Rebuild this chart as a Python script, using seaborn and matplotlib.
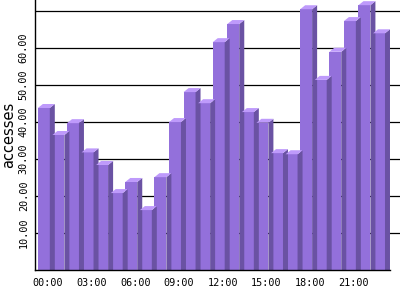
import numpy as np
import pandas as pd
import seaborn as sns
import matplotlib
matplotlib.use("Agg")
import matplotlib.pyplot as plt
from matplotlib.patches import Polygon

hours = [f"{h:02d}:00" for h in range(24)]
accesses = [43.8, 36.5, 39.7, 31.8, 28.4, 20.8, 23.8, 16.2, 25.1, 40.0, 48.1, 45.1,
            61.6, 66.5, 42.7, 39.8, 31.6, 31.3, 70.5, 51.4, 59.0, 67.3, 71.6, 64.0]
ytick_vals = [10, 20, 30, 40, 50, 60]
grid_vals = [10, 20, 30, 40, 50, 60, 70]

front = "#9370DB"
side = "#6A52A3"
top = "#BE9AFB"

sns.set_theme(style="white")
plt.rcParams['font.family'] = ['DejaVu Sans Mono', 'DejaVu Sans']

df = pd.DataFrame({"hour": hours, "accesses": accesses})
fig = plt.figure(figsize=(4, 3), dpi=100)
ax = fig.add_axes([35/400, 30/300, 365/400, 270/300])

sns.barplot(data=df, x="hour", y="accesses", color=front, saturation=1,
            width=0.82, ax=ax, linewidth=0, zorder=3)

ax.set_xlim(-0.606, 24.44)
ax.set_ylim(0, 73)

for y in grid_vals:
    ax.axhline(y, color="black", lw=0.9, zorder=1)

# 3D extrusion derived from bar geometry
fig.canvas.draw()
pxu = ax.transData.transform((1, 1)) - ax.transData.transform((0, 0))
dx = 5 / pxu[0]
dy = 4 / pxu[1]
for p in list(ax.patches):
    x0 = p.get_x()
    w = p.get_width()
    h = p.get_height()
    x1 = x0 + w
    ax.add_patch(Polygon([(x1, -1), (x1 + dx, -1), (x1 + dx, h + dy), (x1, h)],
                         closed=True, facecolor=side, edgecolor="none", zorder=3,
                         clip_on=True))
    ax.add_patch(Polygon([(x0, h), (x0 + dx, h + dy), (x1 + dx, h + dy), (x1, h)],
                         closed=True, facecolor=top, edgecolor="none", zorder=3,
                         clip_on=True))

ax.set_xticks(np.arange(0, 24, 3) + 0.27)
ax.set_xticklabels(hours[::3], fontsize=7.3)
ax.set_yticks(ytick_vals)
ax.set_yticklabels([f"{v:.2f}" for v in ytick_vals], fontsize=7.3, rotation=90,
                   va="center")
ax.tick_params(axis="both", length=0, colors="black")
ax.tick_params(axis="x", pad=6)
ax.tick_params(axis="y", pad=4.5)

ax.set_xlabel("")
ax.set_ylabel("accesses", fontsize=10.5, family="DejaVu Sans", color="black",
              va="center")
ax.yaxis.set_label_coords(-0.072, 0.5)

for s in ["top", "right"]:
    ax.spines[s].set_visible(False)
for s in ["left", "bottom"]:
    ax.spines[s].set_color("black")
    ax.spines[s].set_linewidth(1.0)
    ax.spines[s].set_zorder(5)
ax.spines["bottom"].set_bounds(-0.606, 23.41 + dx)

fig.savefig("out.png", dpi=100)
